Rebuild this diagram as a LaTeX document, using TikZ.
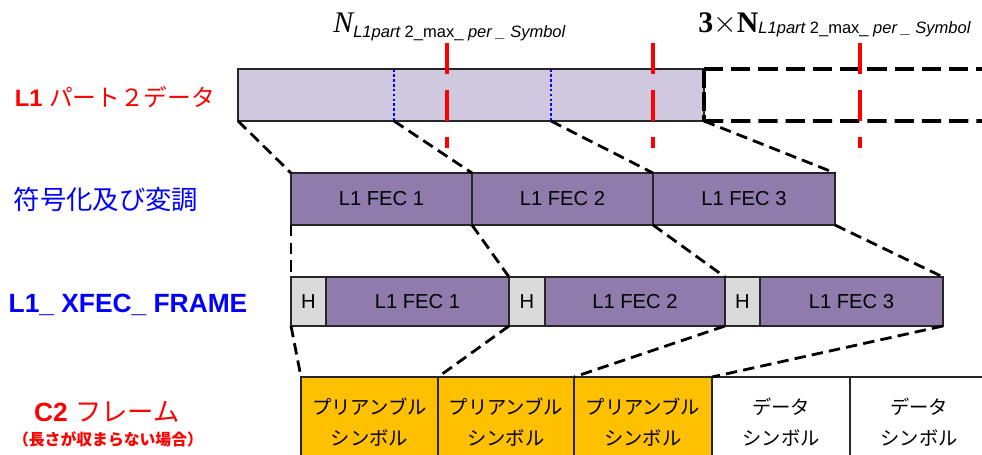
\documentclass[tikz,border=0pt]{standalone}
\usepackage{fontspec}
\setmainfont{Liberation Serif}
\setsansfont{Liberation Sans}
\newfontfamily\jp{Noto Sans CJK JP}
\definecolor{barfill}{HTML}{D0C8DE}
\definecolor{fecfill}{HTML}{8F7BAC}
\definecolor{hdrfill}{HTML}{DADADA}
\definecolor{prefill}{HTML}{FFC000}

\begin{document}
\begin{tikzpicture}[x=0.02cm, y=-0.02cm,
    box/.style={draw=black!85, line width=0.8pt, inner sep=0pt, outer sep=0pt, anchor=north west},
    fecbox/.style={box, fill=fecfill, minimum height=1.04cm, font=\sffamily\fontsize{11.5}{13}\selectfont},
    xbox/.style={box, fill=fecfill, minimum height=0.98cm, font=\sffamily\fontsize{11.5}{13}\selectfont},
    hbox/.style={box, fill=hdrfill, minimum height=0.98cm, font=\sffamily\fontsize{11.5}{13}\selectfont},
    symbox/.style={box, minimum height=1.8cm, align=center, font=\jp\fontsize{11}{17.6}\selectfont},
    link/.style={black, line width=1.6pt, dash pattern=on 6.5pt off 3.5pt},
    lbl/.style={inner sep=0pt, font=\sffamily\bfseries}]

\useasboundingbox (0,0) rectangle (982,454);

% draw top bar
\node[box, fill=barfill, minimum width=9.32cm, minimum height=1.04cm] (bar) at (238,69) {};
\coordinate (bt1) at (394,69);
\coordinate (bb1) at (394,121);
\coordinate (bt2) at (551,69);
\coordinate (bb2) at (551,121);
\draw[blue, line width=1.6pt, dash pattern=on 1.6pt off 1.2pt] (bt1) -- (bb1);
\draw[blue, line width=1.6pt, dash pattern=on 1.6pt off 1.2pt] (bt2) -- (bb2);

% dashed extension
\coordinate (et) at (990,69);
\coordinate (eb) at (990,121);
\draw[black, line width=2.2pt, dash pattern=on 11pt off 4.5pt] (bar.north east) -- (et);
\draw[black, line width=2.2pt, dash pattern=on 11pt off 4.5pt] (bar.south east) -- (eb);
\draw[black, line width=2.2pt, dash pattern=on 11pt off 2pt] (bar.north east) -- (bar.south east);

% red marks
\foreach \rx in {447,653,860}
  \draw[red, line width=2.3pt, dash pattern=on 0.62cm off 0.32cm] (\rx,43) -- (\rx,148);

% top labels
\node[anchor=base west, inner sep=0pt] (nmax) at (333,32)
  {{\fontsize{17}{17}\selectfont\itshape N}\raisebox{-3.4pt}{\sffamily\fontsize{9.4}{9}\selectfont\itshape L1part {\upshape 2\_max\_} per \_ Symbol}};
\node[anchor=base west, inner sep=0pt] (nmax3) at (698,32)
  {{\fontsize{17}{17}\selectfont\bfseries 3$\times$N}\raisebox{-1pt}{\sffamily\fontsize{9.4}{9}\selectfont\itshape L1part {\upshape 2\_max\_} per \_ Symbol}};

% FEC blocks
\node[fecbox, minimum width=3.62cm] (fa) at (291,173) {L1 FEC 1};
\node[fecbox, minimum width=3.62cm] (fb) at (472,173) {L1 FEC 2};
\node[fecbox, minimum width=3.64cm] (fc) at (653,173) {L1 FEC 3};

% XFEC frame
\node[hbox, minimum width=0.70cm] (ha) at (291,277) {H};
\node[xbox, minimum width=3.66cm] (xa) at (326,277) {L1 FEC 1};
\node[hbox, minimum width=0.72cm] (hb) at (509,277) {H};
\node[xbox, minimum width=3.60cm] (xb) at (545,277) {L1 FEC 2};
\node[hbox, minimum width=0.70cm] (hc) at (725,277) {H};
\node[xbox, minimum width=3.66cm] (xc) at (760,277) {L1 FEC 3};

% C2 frame symbols
\node[symbox, fill=prefill, minimum width=2.74cm] (pa) at (301,377) {プリアンブル\\シンボル};
\node[symbox, fill=prefill, minimum width=2.72cm] (pb) at (438,377) {プリアンブル\\シンボル};
\node[symbox, fill=prefill, minimum width=2.76cm] (pc) at (574,377) {プリアンブル\\シンボル};
\node[symbox, fill=white, minimum width=2.76cm] (da) at (712,377) {データ\\シンボル};
\node[symbox, fill=white, minimum width=2.76cm] (db) at (850,377) {データ\\シンボル};

% draw dashed links
\draw[link] (bar.south west) -- (fa.north west);
\draw[link] (bb1) -- (fb.north west);
\draw[link] (bb2) -- (fc.north west);
\draw[link] (bar.south east) -- (fc.north east);

\draw[link] (fa.south west) -- (ha.north west);
\draw[link] (fa.south east) -- (hb.north west);
\draw[link] (fb.south east) -- (hc.north west);
\draw[link] (fc.south east) -- (xc.north east);

\draw[link] (ha.south west) -- (pa.north west);
\draw[link] (hb.south west) -- (pb.north west);
\draw[link] (hc.south west) -- (pc.north west);
\draw[link] (xc.south east) -- (da.north west);

% row labels
\node[lbl, red, font=\sffamily\bfseries\fontsize{13.5}{16}\selectfont] (lpart) at (115,97) {L1 {\jp\mdseries パート２データ}};
\node[lbl, blue, font=\jp\fontsize{15}{18}\selectfont] (lcod) at (106,200) {符号化及び変調};
\node[lbl, blue, font=\sffamily\bfseries\fontsize{15}{18}\selectfont] (lxfec) at (128,305) {L1\_ XFEC\_ FRAME};
\node[lbl, red, font=\sffamily\bfseries\fontsize{15}{18}\selectfont] (lc2) at (107,412) {C2 {\jp\mdseries フレーム}};
\node[lbl, red, font=\jp\bfseries\fontsize{9}{11}\selectfont] (lnote) at (108,439) {（長さが収まらない場合）};

\end{tikzpicture}
\end{document}
